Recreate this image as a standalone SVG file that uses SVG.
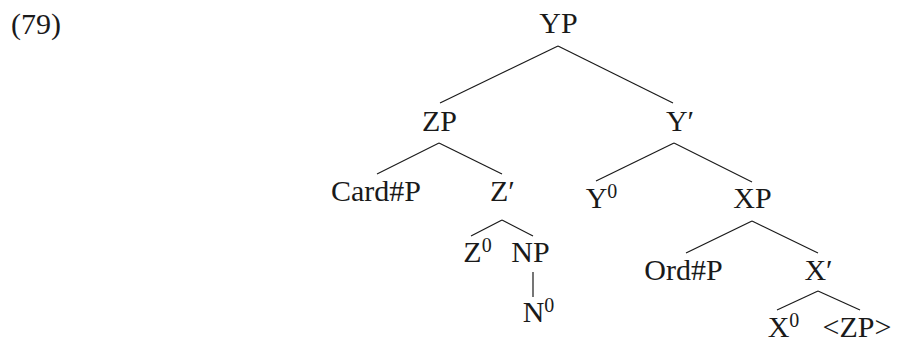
<svg xmlns="http://www.w3.org/2000/svg" width="897" height="344" viewBox="0 0 897 344">
<style>
text{font-family:"Liberation Serif","Times New Roman",serif;font-size:30px;fill:#1a1a1a;text-anchor:middle}
.sup{font-size:20px}
.edge{stroke:#1a1a1a;stroke-width:1.2;fill:none}
</style>
<rect width="897" height="344" fill="#fff"/>
<text x="11" y="34" style="text-anchor:start">(79)</text>
<g id="connectors" class="edge">
<line x1="558" y1="46" x2="440" y2="103"/>
<line x1="558" y1="46" x2="673" y2="103"/>
<line x1="439" y1="143" x2="377" y2="174"/>
<line x1="439" y1="143" x2="502" y2="174"/>
<line x1="674" y1="143" x2="596" y2="181"/>
<line x1="674" y1="143" x2="752" y2="182"/>
<line x1="502" y1="220" x2="471" y2="236"/>
<line x1="502" y1="220" x2="533" y2="236"/>
<line x1="533" y1="272" x2="533" y2="297"/>
<line x1="752" y1="221" x2="686" y2="253"/>
<line x1="752" y1="221" x2="818" y2="253"/>
<line x1="818" y1="291" x2="777" y2="310"/>
<line x1="818" y1="291" x2="860" y2="310"/>
</g>
<g id="YP"><text x="558.5" y="33">YP</text></g>
<g id="ZP"><text x="439.5" y="131">ZP</text></g>
<g id="Ybar"><text x="680" y="131">Y′</text></g>
<g id="CardP"><text x="376" y="201">Card#P</text></g>
<g id="Zbar"><text x="502.5" y="201">Z′</text></g>
<g id="Y0"><text x="601.5" y="208">Y<tspan class="sup" dy="-10">0</tspan></text></g>
<g id="XP"><text x="752.5" y="208">XP</text></g>
<g id="Z0"><text x="477.5" y="262">Z<tspan class="sup" dy="-10">0</tspan></text></g>
<g id="NP"><text x="530.5" y="262">NP</text></g>
<g id="N0"><text x="538.5" y="322">N<tspan class="sup" dy="-10">0</tspan></text></g>
<g id="OrdP"><text x="683.5" y="280">Ord#P</text></g>
<g id="Xbar"><text x="818.5" y="280">X′</text></g>
<g id="X0"><text x="783.5" y="337">X<tspan class="sup" dy="-10">0</tspan></text></g>
<g id="ZPtrace"><text x="857" y="337">&lt;ZP&gt;</text></g>
</svg>
